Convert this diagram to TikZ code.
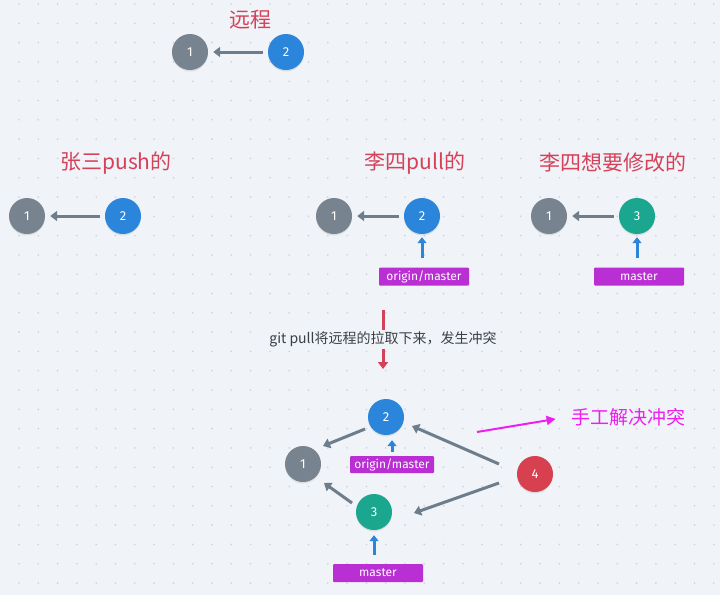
\documentclass[tikz,border=0pt]{standalone}
\usepackage{fontspec}
\setmainfont{Noto Sans CJK SC}
\newfontfamily\lab{Fira Sans}
\usetikzlibrary{arrows.meta,calc,shadows}
\definecolor{bg}{HTML}{F0F3F7}
\definecolor{dotc}{HTML}{CBD2DA}
\definecolor{cgray}{HTML}{77838F}
\definecolor{cblue}{HTML}{2B86DB}
\definecolor{cteal}{HTML}{1AA68F}
\definecolor{cred}{HTML}{D6404F}
\definecolor{cpurp}{HTML}{B92FD3}
\definecolor{ctitle}{HTML}{D6415A}
\definecolor{clink}{HTML}{6E7D8C}
\definecolor{cmag}{HTML}{EE1FEE}
\definecolor{ctext}{HTML}{3A4048}
\tikzset{
  commit/.style={circle, minimum size=36pt, inner sep=0pt, text=white, font=\lab\fontsize{13}{13}\selectfont,
    drop shadow={shadow xshift=0pt, shadow yshift=-1.5pt, opacity=0.18}},
  cA/.style={commit, fill=cgray},
  cB/.style={commit, fill=cblue},
  cC/.style={commit, fill=cteal},
  cD/.style={commit, fill=cred},
  tagbox/.style={fill=cpurp, text=white, font=\lab\fontsize{12}{12}\selectfont, minimum width=90pt, minimum height=18pt, inner sep=0pt, rounded corners=1pt},
  ttl/.style={text=ctitle, font=\fontsize{21}{21}\selectfont},
  link/.style={draw=clink, line width=3pt, -{Triangle[length=7pt,width=10pt]}},
  ptr/.style={draw=cblue, line width=3pt, -{Triangle[length=6pt,width=9pt]}},
  pullarrow/.style={draw=ctitle, line width=3pt, -{Triangle[length=7pt,width=10pt]}},
  magarrow/.style={draw=cmag, line width=2pt, -{Triangle[length=9pt,width=9pt]}},
}
\begin{document}
\begin{tikzpicture}[x=1pt,y=-1pt]
\fill[bg] (0,0) rectangle (720,595);
\useasboundingbox (0,0) rectangle (720,595);
\foreach \i in {0,...,37} {
  \foreach \j in {0,...,30} {
    \fill[dotc] ({19+19.3*\i},{4+19.3*\j}) circle (0.9);
  }
}
% top: remote
\node[ttl] (tremote) at (250,20) {远程};
\node[cA] (r1) at (190,52) {1};
\node[cB] (r2) at (286,52) {2};
\draw[link, shorten <=5pt, shorten >=5pt] (r2) -- (r1);

% zhang san
\node[ttl] (tzs) at (116,163) {张三push的};
\node[cA] (z1) at (27,216) {1};
\node[cB] (z2) at (123,216) {2};
\draw[link, shorten <=5pt, shorten >=5pt] (z2) -- (z1);

% li si pull
\node[ttl] (tlp) at (415,163) {李四pull的};
\node[cA] (p1) at (334,216) {1};
\node[cB] (p2) at (422,216) {2};
\draw[link, shorten <=5pt, shorten >=5pt] (p2) -- (p1);
\node[tagbox] (pt) at (424,276.5) {\textcolor{white}{origin/master}};
\draw[ptr, shorten <=9pt, shorten >=3pt] (p2 |- pt.north) -- (p2.south);

% li si modify
\node[ttl] (tlm) at (613,163) {李四想要修改的};
\node[cA] (m1) at (549,216) {1};
\node[cC] (m3) at (637,216) {3};
\draw[link, shorten <=5pt, shorten >=5pt] (m3) -- (m1);
\node[tagbox] (mt) at (639,276.5) {\textcolor{white}{master}};
\draw[ptr, shorten <=9pt, shorten >=3pt] (m3 |- mt.north) -- (m3.south);

% git pull arrow
\coordinate (gs) at (383,310);
\coordinate (ge) at (383,369);
\draw[pullarrow] (gs) -- node[fill=bg, inner sep=2pt, text=ctext, font=\fontsize{14}{14}\selectfont] (gtxt) {git pull将远程的拉取下来，发生冲突} (ge);

% bottom merge
\node[cB] (b2) at (386,417) {2};
\node[cA] (b1) at (303,464) {1};
\node[cC] (b3) at (374,512) {3};
\node[cD] (b4) at (535,474) {4};
\draw[link] ($(b2)+(-21,12)$) -- ($(b1)+(20,-18)$);
\draw[link] ($(b3)+(-22,-9)$) -- ($(b1)+(21,19)$);
\draw[link] ($(b4)+(-36,-10)$) -- ($(b2)+(26,9)$);
\draw[link] ($(b4)+(-36,9)$) -- ($(b3)+(40,1)$);
\node[tagbox, minimum width=84pt, minimum height=17pt] (bt1) at (392,464.5) {\textcolor{white}{origin/master}};
\draw[ptr, shorten <=4pt, shorten >=5pt] (bt1.north) -- (bt1.north |- b2.south);
\node[tagbox] (bt2) at (378,573) {\textcolor{white}{master}};
\draw[ptr, shorten <=9pt, shorten >=5pt] (b3 |- bt2.north) -- (b3.south);

% manual resolve
\node[text=cmag, font=\fontsize{19}{19}\selectfont] (fix) at (628,417) {手工解决冲突};
\coordinate (ms) at (477,432);
\draw[magarrow, shorten >=12pt] (ms) -- (fix.west);
\end{tikzpicture}
\end{document}
